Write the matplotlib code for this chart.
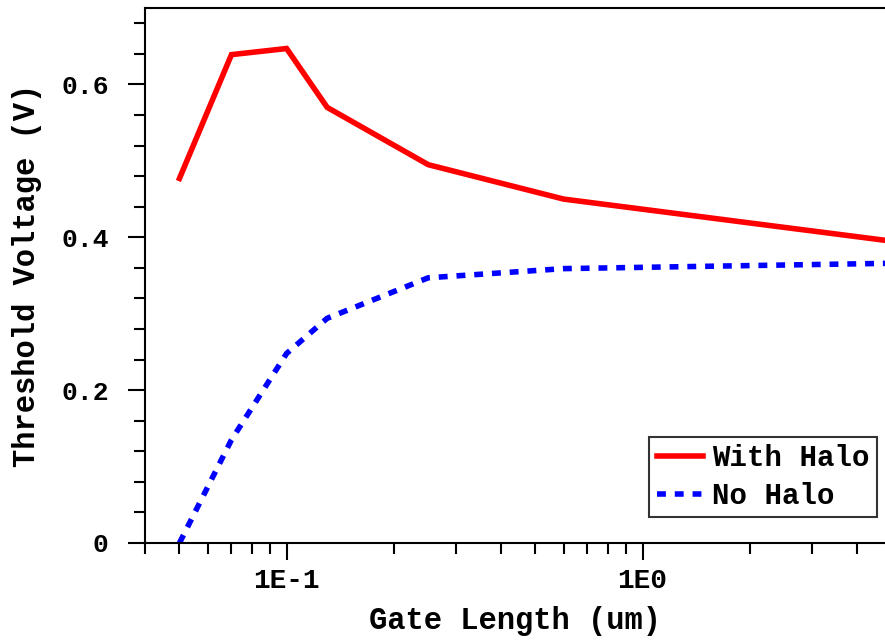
import matplotlib
matplotlib.use("Agg")
import matplotlib.pyplot as plt
from matplotlib.ticker import FixedLocator, NullFormatter, LogLocator

gate_length = [0.05, 0.07, 0.10, 0.13, 0.25, 0.6, 5.0]
vt_with_halo = [0.477, 0.639, 0.647, 0.570, 0.495, 0.450, 0.395]
vt_no_halo = [0.000, 0.135, 0.248, 0.294, 0.347, 0.359, 0.366]

x_ticks = [0.1, 1.0]
x_tick_labels = ["1E-1", "1E0"]
y_ticks = [0, 0.2, 0.4, 0.6]
y_tick_labels = ["0", "0.2", "0.4", "0.6"]

font = "Liberation Mono"

fig = plt.figure(figsize=(8.85, 6.41), dpi=100)
ax = fig.add_axes([0.1638, 0.1529, 0.8362, 0.8346])

ax.plot(gate_length, vt_with_halo, color="#ff0000", lw=4, solid_joinstyle="miter",
        label="With Halo")
ax.plot(gate_length, vt_no_halo, color="#0000ff", lw=4, dashes=(1.6, 1.6),
        dash_capstyle="butt", label="No Halo")

ax.set_xscale("log")
ax.set_xlim(0.04, 4.8)
ax.set_ylim(0, 0.7)

ax.xaxis.set_major_locator(FixedLocator(x_ticks))
ax.set_xticklabels(x_tick_labels)
ax.xaxis.set_minor_locator(LogLocator(base=10, subs=range(2, 10)))
ax.xaxis.set_minor_formatter(NullFormatter())

ax.yaxis.set_major_locator(FixedLocator(y_ticks))
ax.set_yticklabels(y_tick_labels)
ax.yaxis.set_minor_locator(FixedLocator([i * 0.04 for i in range(0, 18)]))

for lab in ax.get_yticklabels():
    lab.set_fontfamily(font)
    lab.set_fontweight("bold")
    lab.set_fontsize(19)
for lab in ax.get_xticklabels():
    lab.set_fontfamily(font)
    lab.set_fontweight("bold")
    lab.set_fontsize(20)

ax.tick_params(axis="both", which="major", direction="out", length=12, width=1.5, pad=6)
ax.tick_params(axis="both", which="minor", direction="out", length=8, width=1.5)
ax.tick_params(axis="y", which="major", pad=14)

for side in ["left", "bottom", "top"]:
    ax.spines[side].set_linewidth(1.5)
ax.spines["right"].set_visible(False)

ax.set_xlabel("Gate Length (um)", fontfamily=font, fontweight="bold", fontsize=22, labelpad=9)
ax.set_ylabel("Threshold Voltage (V)", fontfamily=font, fontweight="bold", fontsize=22, labelpad=14)

leg = ax.legend(loc="lower right", bbox_to_anchor=(0.989, 0.048),
                prop={"family": font, "weight": "bold", "size": 21},
                frameon=True, fancybox=False, edgecolor="black", handlelength=1.6,
                handletextpad=0.3, borderpad=0.25, labelspacing=0.35, borderaxespad=0)
leg.get_frame().set_linewidth(1.5)

fig.savefig("out.png", dpi=100)
